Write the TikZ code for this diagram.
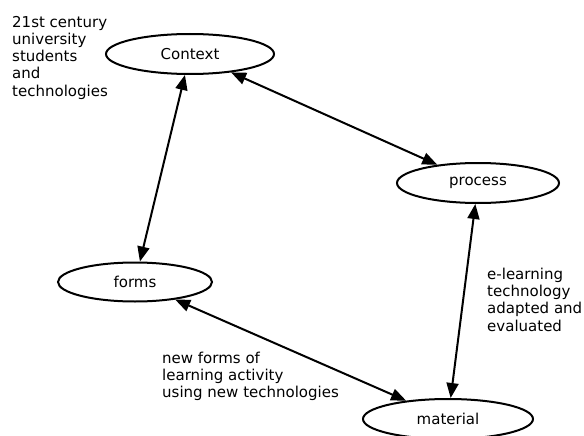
\documentclass[tikz,border=0pt]{standalone}
\usepackage{fontspec}
\setmainfont{DejaVu Sans}
\usetikzlibrary{shapes.geometric,arrows.meta}
\tikzset{
  oval/.style={ellipse, draw, line width=2pt, inner sep=0pt, fill=white},
  link/.style={line width=2pt, {Stealth[length=15pt,width=12pt,inset=0pt]}-{Stealth[length=15pt,width=12pt,inset=0pt]}},
  note/.style={align=left, inner sep=0pt, anchor=north west, font=\fontsize{15}{17.2}\selectfont},
  every node/.append style={font=\fontsize{15}{17.2}\selectfont}
}
\begin{document}
\begin{tikzpicture}[x=1pt,y=-1pt]
\useasboundingbox (0,0) rectangle (584,436);
\node[oval, minimum width=168pt, minimum height=40pt] (context) at (190,54) {Context};
\node[oval, minimum width=162pt, minimum height=40pt] (process) at (478,183) {process};
\node[oval, minimum width=154pt, minimum height=39pt] (forms) at (135,282) {forms};
\node[oval, minimum width=170pt, minimum height=40pt] (material) at (448,419) {material};
\draw[link] (context) -- (forms);
\draw[link] (context) -- (process);
\draw[link] (process) -- (material);
\draw[link] (forms) -- (material);
\node[note] (t1) at (12,16) {21st century\\university\\students\\and\\technologies};
\node[note] (t2) at (487,268) {e-learning\\technology\\adapted and\\evaluated};
\node[note] (t3) at (162,352) {new forms of\\learning activity\\using new technologies};
\end{tikzpicture}
\end{document}
